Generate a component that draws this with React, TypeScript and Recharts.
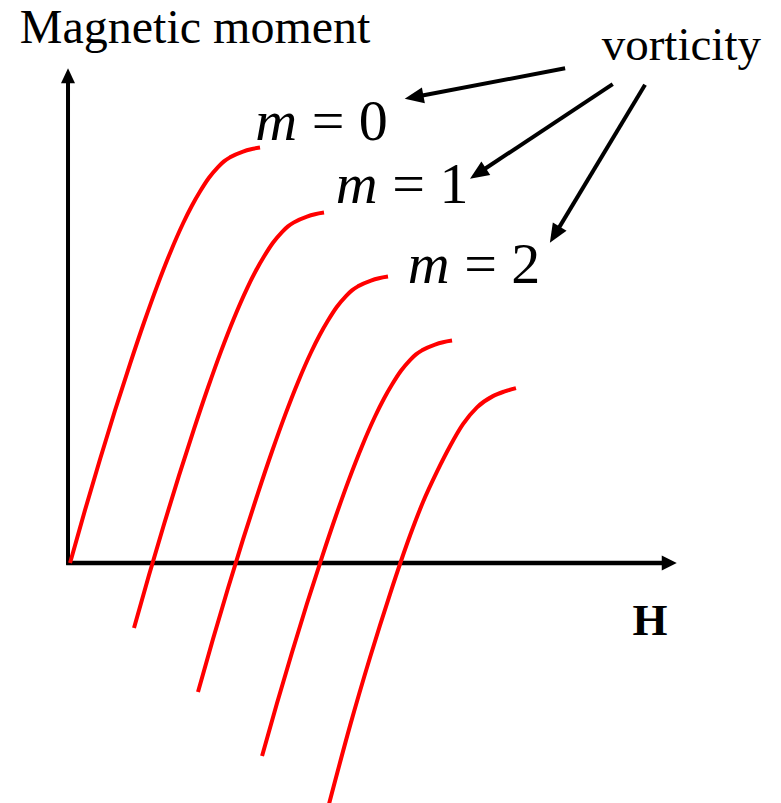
import React from "react";
import { LineChart, Line, XAxis, YAxis, ReferenceLine, ReferenceDot } from "recharts";

// curves, as [H, moment] pairs
const curveM0 = [
  [0.033, 0], [0.279, 0.869], [0.525, 1.702], [0.77, 2.5], [1.016, 3.262], [1.246, 3.943],
  [1.459, 4.536], [1.672, 5.08], [1.885, 5.566], [2.033, 5.861], [2.164, 6.09], [2.311, 6.316],
  [2.459, 6.492], [2.557, 6.585], [2.656, 6.651], [2.869, 6.746], [3.0, 6.784], [3.148, 6.811],
];
const curveM1 = [
  [1.082, -1.066], [1.328, -0.197], [1.574, 0.636], [1.819, 1.434], [2.065, 2.196], [2.295, 2.877],
  [2.508, 3.47], [2.721, 4.014], [2.934, 4.5], [3.082, 4.795], [3.213, 5.024], [3.36, 5.25],
  [3.508, 5.426], [3.606, 5.519], [3.705, 5.585], [3.918, 5.68], [4.049, 5.718], [4.197, 5.745],
];
const curveM2 = [
  [2.131, -2.115], [2.377, -1.246], [2.623, -0.413], [2.868, 0.385], [3.114, 1.147], [3.344, 1.828],
  [3.557, 2.421], [3.77, 2.965], [3.983, 3.451], [4.131, 3.746], [4.262, 3.975], [4.409, 4.201],
  [4.557, 4.377], [4.655, 4.47], [4.754, 4.536], [4.967, 4.631], [5.098, 4.669], [5.246, 4.696],
];
const curveM3 = [
  [3.181, -3.164], [3.427, -2.295], [3.673, -1.462], [3.918, -0.664], [4.164, 0.098], [4.394, 0.779],
  [4.607, 1.372], [4.82, 1.916], [5.033, 2.402], [5.181, 2.697], [5.312, 2.926], [5.459, 3.152],
  [5.607, 3.328], [5.705, 3.421], [5.804, 3.487], [6.017, 3.582], [6.148, 3.62], [6.296, 3.647],
];
const curveM4 = [
  [4.279, -3.95], [4.623, -2.67], [4.951, -1.549], [5.279, -0.508], [5.607, 0.451], [5.82, 1.0],
  [6.049, 1.498], [6.262, 1.915], [6.475, 2.277], [6.705, 2.552], [6.967, 2.736], [7.148, 2.81],
  [7.344, 2.867],
];
const curves = [curveM0, curveM1, curveM2, curveM3, curveM4];

const vorticities = [0, 1, 2];
const yTitle = "Magnetic moment";
const xTitle = "H";
const noteTitle = "vorticity";

const X_DOMAIN = [-1.115, 11.689];
const Y_DOMAIN = [-3.934, 9.23];
const SERIF = "'Liberation Serif', 'Times New Roman', serif";

const toPoints = (pts: number[][]) => pts.map(([x, y]) => ({ x, y }));

const arrowShape = (head: number, half: number, width: number) => (props: any) => {
  const { x1, y1, x2, y2 } = props;
  const dx = x2 - x1;
  const dy = y2 - y1;
  const len = Math.hypot(dx, dy) || 1;
  const ux = dx / len;
  const uy = dy / len;
  const bx = x2 - ux * head;
  const by = y2 - uy * head;
  const pts = `${x2},${y2} ${bx - uy * half},${by + ux * half} ${bx + uy * half},${by - ux * half}`;
  return (
    <g>
      <line x1={x1} y1={y1} x2={bx + ux} y2={by + uy} stroke="#000" strokeWidth={width} />
      <polygon points={pts} fill="#000" />
    </g>
  );
};

const textShape = (content: React.ReactNode, size: number, extra: any = {}) => (props: any) => (
  <text x={props.cx} y={props.cy} fontFamily={SERIF} fontSize={size} fill="#000" {...extra}>
    {content}
  </text>
);

const mLabel = (v: number) => (
  <>
    <tspan fontStyle="italic">m</tspan>
    {` = ${v}`}
  </>
);

export default function App() {
  return (
    <div style={{ position: "absolute", left: 0, top: 0, width: 781, height: 803, background: "#fff" }}>
      <LineChart width={781} height={803} margin={{ top: 0, right: 0, bottom: 0, left: 0 }}>
        <XAxis type="number" dataKey="x" domain={X_DOMAIN} allowDataOverflow hide />
        <YAxis type="number" dataKey="y" domain={Y_DOMAIN} allowDataOverflow hide />

        {/* axes with arrow heads */}
        <ReferenceLine segment={[{ x: 0, y: -0.03 }, { x: 0, y: 8.11 }]} shape={arrowShape(15, 7, 4)} />
        <ReferenceLine segment={[{ x: -0.03, y: 0 }, { x: 9.98, y: 0 }]} shape={arrowShape(15, 7.5, 4.5)} />

        {curves.map((c, i) => (
          <Line
            key={i}
            data={toPoints(c)}
            dataKey="y"
            type="monotone"
            stroke="#ff0000"
            strokeWidth={4}
            dot={false}
            activeDot={false}
            isAnimationActive={false}
          />
        ))}

        {/* vorticity arrows */}
        <ReferenceLine segment={[{ x: 8.15, y: 8.11 }, { x: 5.52, y: 7.61 }]} shape={arrowShape(19, 8, 4)} />
        <ReferenceLine segment={[{ x: 8.93, y: 7.85 }, { x: 6.59, y: 6.3 }]} shape={arrowShape(19, 8, 4)} />
        <ReferenceLine segment={[{ x: 9.46, y: 7.84 }, { x: 7.9, y: 5.25 }]} shape={arrowShape(19, 8, 4)} />

        <ReferenceDot x={-0.79} y={8.52} r={0} shape={textShape(yTitle, 48)} />
        <ReferenceDot x={8.75} y={8.25} r={0} shape={textShape(noteTitle, 47)} />
        <ReferenceDot x={9.54} y={-1.18} r={0} shape={textShape(xTitle, 45, { fontWeight: "bold", textAnchor: "middle" })} />

        <ReferenceDot x={3.07} y={6.93} r={0} shape={textShape(mLabel(vorticities[0]), 58)} />
        <ReferenceDot x={4.39} y={5.9} r={0} shape={textShape(mLabel(vorticities[1]), 58)} />
        <ReferenceDot x={5.57} y={4.59} r={0} shape={textShape(mLabel(vorticities[2]), 58)} />
      </LineChart>
    </div>
  );
}
